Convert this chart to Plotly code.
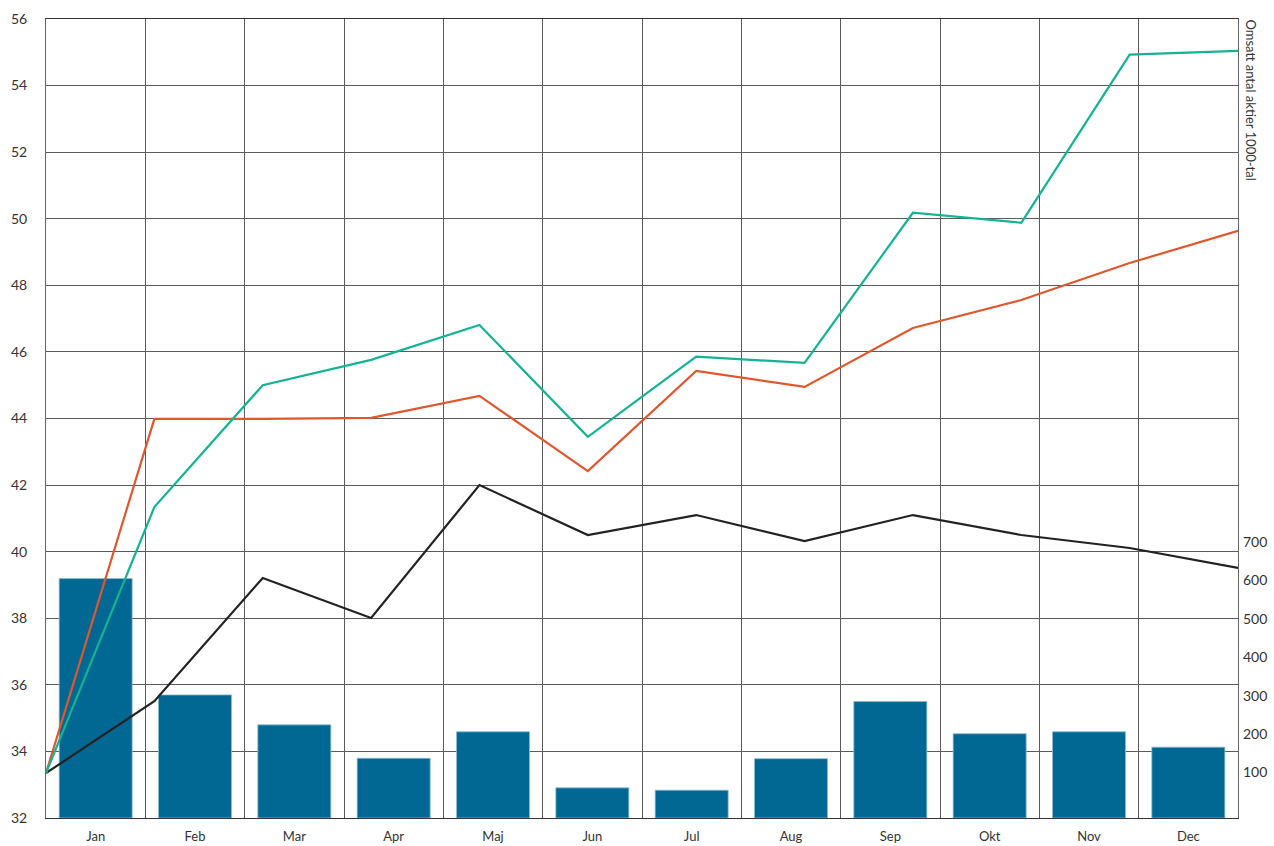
import plotly.graph_objects as go

months = ["Jan", "Feb", "Mar", "Apr", "Maj", "Jun", "Jul", "Aug", "Sep", "Okt", "Nov", "Dec"]
volume = [605, 302, 224, 137, 206, 60, 54, 136, 285, 201, 206, 166]
teal = [33.35, 41.34, 45.0, 45.76, 46.81, 43.45, 45.86, 45.67, 50.18, 49.88, 54.93, 55.04]
orange = [33.35, 43.99, 43.99, 44.02, 44.68, 42.42, 45.43, 44.95, 46.72, 47.56, 48.67, 49.64]
black = [33.35, 35.51, 39.21, 38.01, 42.0, 40.5, 41.1, 40.32, 41.1, 40.5, 40.11, 39.51]
left_ticks = list(range(32, 57, 2))
right_ticks = [100, 200, 300, 400, 500, 600, 700]
right_title = "Omsatt antal aktier 1000-tal"

Y_MIN, Y_MAX = -18.5, 2062
idx = list(range(len(months)))
grid = "#5a5a5a"
txt = "#333333"
font = "Lato"

fig = go.Figure()
# bars on the main subplot (x, y) -> right axis
fig.add_trace(go.Bar(
    x=idx, y=[v - Y_MIN for v in volume], base=Y_MIN,
    xaxis="x", yaxis="y",
    marker=dict(color="#006892", line=dict(color="#8dbcd0", width=0.8)),
    width=0.735, showlegend=False, hoverinfo="skip",
))
# lines on the overlay subplot (x2, y2) -> left axis
for vals, col in [(black, "#222222"), (orange, "#e0572e"), (teal, "#13b393")]:
    fig.add_trace(go.Scatter(
        x=idx, y=vals, xaxis="x2", yaxis="y2", mode="lines",
        line=dict(color=col, width=2.2), showlegend=False,
    ))

fig.update_layout(
    width=1274, height=846,
    margin=dict(l=46, r=36, t=19, b=28, autoexpand=False),
    paper_bgcolor="white", plot_bgcolor="white",
    font=dict(family=font, size=14, color=txt),
    xaxis=dict(
        range=[-0.5, 11.5], tickvals=idx, ticktext=months,
        showgrid=False, zeroline=False, automargin=False,
        showline=True, linecolor="#333", linewidth=1, mirror=True,
        ticks="", ticklabelstandoff=6,
        tickfont=dict(size=13),
        minor=dict(tickmode="array", tickvals=[i - 0.5 for i in range(13)],
                   showgrid=True, gridcolor=grid, gridwidth=1, ticks=""),
    ),
    xaxis2=dict(range=[0, 11], overlaying="x", visible=False, automargin=False),
    yaxis=dict(
        range=[Y_MIN, Y_MAX], side="right",
        tickvals=right_ticks, showgrid=False, zeroline=False,
        showline=False, ticks="", ticklabelstandoff=4, automargin=False,
    ),
    yaxis2=dict(
        range=[32, 56], tickvals=left_ticks, overlaying="y", side="left",
        showgrid=True, gridcolor=grid, gridwidth=1, zeroline=False,
        showline=True, linecolor="#666", linewidth=1, mirror=True,
        ticks="", ticklabelstandoff=15, automargin=False,
    ),
    annotations=[dict(
        text=right_title, textangle=90, xref="paper", yref="paper",
        x=1, y=1, xanchor="left", yanchor="top", xshift=3, yshift=2,
        showarrow=False, font=dict(size=13, color=txt),
    )],
)

fig.write_html("out.html", config={"displayModeBar": False},
               post_script="document.body.style.margin='0';")
